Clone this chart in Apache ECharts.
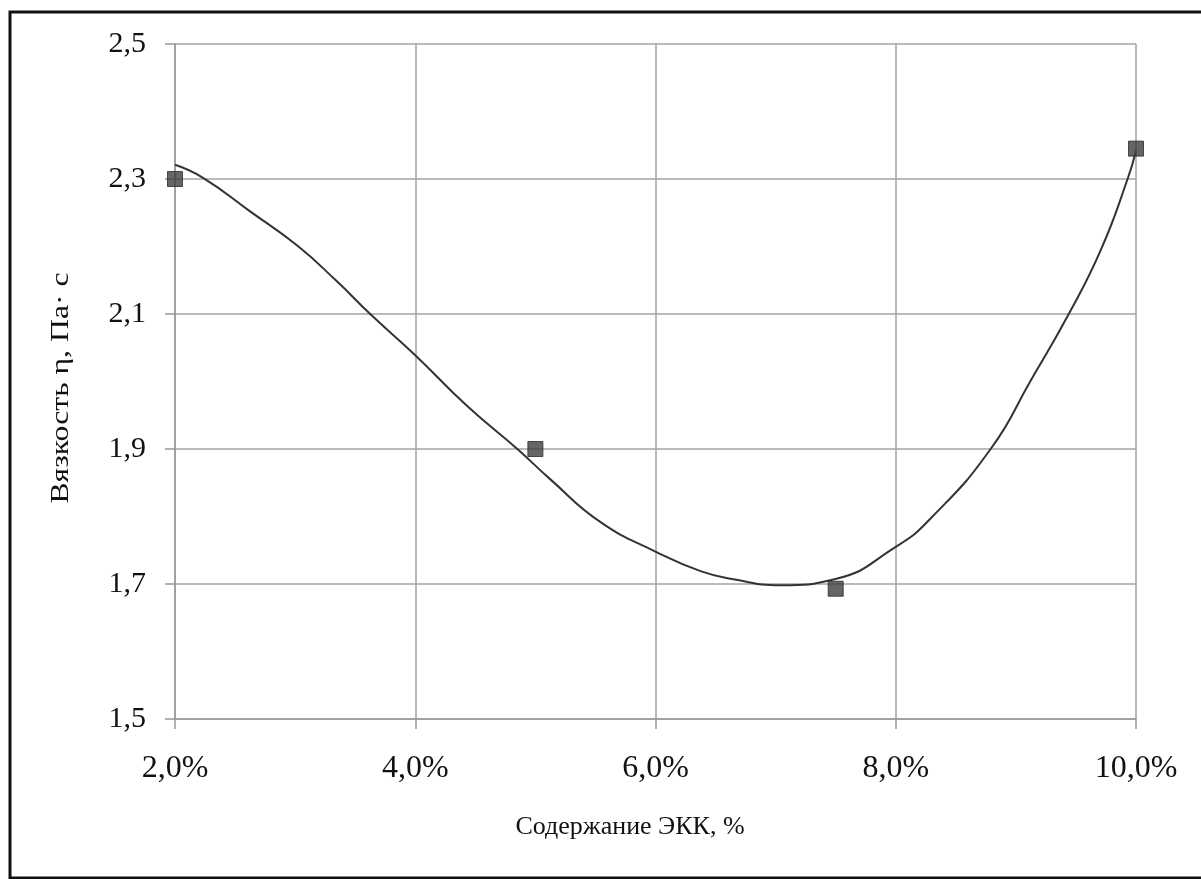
<!DOCTYPE html>
<html>
<head>
<meta charset="utf-8">
<script src="https://cdn.jsdelivr.net/npm/echarts@6/dist/echarts.min.js"></script>
<style>
html,body{margin:0;padding:0;background:#fff;}
#c{width:1201px;height:879px;}
</style>
</head>
<body>
<div id="c"></div>
<script>
// Measured points (x in %, viscosity in Pa·s)
var pointX = [2.0, 5.0, 7.5, 10.0];
var pointY = [2.30, 1.90, 1.693, 2.345];

// Trend curve
var curveX = [2.0, 2.23, 2.625, 3.02, 3.35, 3.625, 4.0, 4.43, 4.85, 5.125, 5.54, 6.0, 6.375, 6.65, 7.04, 7.49, 8.0, 8.29, 8.79, 9.125, 9.44, 9.71, 9.93, 10.0];
var curveY = [2.321, 2.302, 2.252, 2.201, 2.148, 2.100, 2.039, 1.964, 1.900, 1.855, 1.792, 1.748, 1.719, 1.707, 1.698, 1.707, 1.755, 1.797, 1.900, 2.002, 2.100, 2.196, 2.300, 2.342];

var xTicks = [2, 4, 6, 8, 10];
var yTicks = [1.5, 1.7, 1.9, 2.1, 2.3, 2.5];

var xTitle = 'Содержание ЭКК, %';
var yTitle = 'Вязкость η, Па· с';

var FONT = '"Liberation Serif", "DejaVu Serif", serif';

function zip(a, b) { return a.map(function (v, i) { return [v, b[i]]; }); }

var chart = echarts.init(document.getElementById('c'));
chart.setOption({
  backgroundColor: '#fff',
  animation: false,
  grid: { left: 175, top: 44, right: 65, bottom: 160, containLabel: false },
  xAxis: {
    type: 'value',
    min: xTicks[0], max: xTicks[xTicks.length - 1], interval: 2,
    axisLine: { show: true, lineStyle: { color: '#999', width: 1.5 } },
    axisTick: { show: true, inside: false, length: 10, lineStyle: { color: '#999', width: 1.5 } },
    splitLine: { show: true, lineStyle: { color: '#a3a3a3', width: 1.5 } },
    axisLabel: {
      margin: 34, color: '#111', fontFamily: FONT, fontSize: 32,
      formatter: function (v) { return v.toFixed(1).replace('.', ',') + '%'; }
    }
  },
  yAxis: {
    type: 'value',
    min: yTicks[0], max: yTicks[yTicks.length - 1], interval: 0.2,
    axisLine: { show: true, lineStyle: { color: '#999', width: 1.5 } },
    axisTick: { show: true, inside: false, length: 10, lineStyle: { color: '#999', width: 1.5 } },
    splitLine: { show: true, lineStyle: { color: '#a3a3a3', width: 1.5 } },
    axisLabel: {
      margin: 29, color: '#111', fontFamily: FONT, fontSize: 30,
      formatter: function (v) { return v.toFixed(1).replace('.', ','); }
    }
  },
  graphic: [
    {
      type: 'rect', silent: true, z: 100,
      shape: { x: 10, y: 12, width: 1200, height: 866 },
      style: { fill: 'none', stroke: '#111', lineWidth: 3 }
    },
    {
      type: 'text', x: 630, y: 827, silent: true,
      style: { text: xTitle, textAlign: 'center', textVerticalAlign: 'middle',
               font: '26px ' + FONT, fill: '#111' }
    },
    {
      type: 'text', x: 61, y: 388, rotation: Math.PI / 2, scaleX: 1.22, silent: true,
      style: { text: yTitle, textAlign: 'center', textVerticalAlign: 'middle',
               font: '26px ' + FONT, fill: '#111' }
    }
  ],
  series: [
    {
      type: 'line', data: zip(curveX, curveY), smooth: true, symbol: 'none',
      lineStyle: { color: '#333', width: 2 }, z: 2
    },
    {
      type: 'scatter', data: zip(pointX, pointY), symbol: 'rect', symbolSize: 15,
      itemStyle: { color: '#3e3e3e', borderColor: '#2a2a2a', borderWidth: 1 }, z: 3
    }
  ]
});
</script>
</body>
</html>
